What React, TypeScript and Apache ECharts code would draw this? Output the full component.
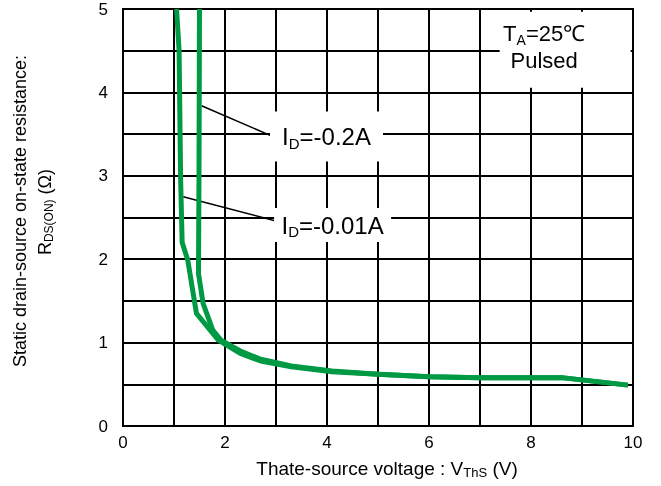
import React, { useEffect, useRef } from 'react';
import * as echarts from 'echarts';

// ID = -0.01A curve (left one)
const curveId001: number[][] = [
  [1.05, 5.0], [1.1, 4.5], [1.13, 2.95], [1.16, 2.2], [1.27, 1.99], [1.44, 1.35],
  [1.87, 1.03], [2.3, 0.87], [2.7, 0.78], [3.3, 0.71], [4.1, 0.65], [5.0, 0.62],
  [6.0, 0.59], [7.0, 0.58], [8.6, 0.58], [9.9, 0.49],
];
// ID = -0.2A curve (right one)
const curveId02: number[][] = [
  [1.5, 5.0], [1.49, 3.0], [1.48, 1.83], [1.57, 1.47], [1.76, 1.15], [1.92, 1.03],
  [2.3, 0.9], [2.7, 0.8], [3.3, 0.72], [4.1, 0.66], [5.0, 0.62], [6.0, 0.59],
  [7.0, 0.58], [8.6, 0.58], [9.9, 0.49],
];
// leader lines from curves to their labels
const leaderId02: number[][] = [[1.54, 3.84], [2.94, 3.47]];
const leaderId001: number[][] = [[1.18, 2.75], [2.98, 2.46]];

const xTickLabels = [0, 2, 4, 6, 8, 10];
const yTickLabels = [0, 1, 2, 3, 4, 5];

const labelId02 = '{n|I}{s|D}{n|=-0.2A}';
const labelId001 = '{n|I}{s|D}{n|=-0.01A}';
const labelCond = '{n|T}{s|A}{n|=25℃}\n{n|Pulsed}';

const GREEN = '#009944';
const FONT = '"Liberation Sans", Arial, sans-serif';

export default function App() {
  const ref = useRef<HTMLDivElement>(null);
  useEffect(() => {
    if (!ref.current) return;
    const chart = echarts.init(ref.current, undefined, { renderer: 'svg' });
    const richMain = (size: number, sub: number, lh: number) => ({
      n: { fontSize: size, color: '#000', fontFamily: FONT, lineHeight: lh },
      s: { fontSize: sub, color: '#000', fontFamily: FONT, lineHeight: sub + 3, verticalAlign: 'bottom' as const },
    });
    chart.setOption({
      animation: false,
      textStyle: { fontFamily: FONT },
      grid: { left: 123, right: 28, top: 9, bottom: 60, show: true, borderColor: '#000', borderWidth: 2, backgroundColor: 'transparent' },
      xAxis: {
        type: 'value', min: 0, max: 10, interval: 1,
        axisLine: { show: true, lineStyle: { color: '#000', width: 2 } },
        axisTick: { show: false },
        axisLabel: {
          color: '#000', fontSize: 17, margin: 8,
          formatter: (v: number) => (xTickLabels.includes(v) ? String(v) : ''),
        },
        splitLine: { show: true, lineStyle: { color: '#000', width: 2 } },
      },
      yAxis: {
        type: 'value', min: 0, max: 5, interval: 0.5,
        axisLine: { show: true, lineStyle: { color: '#000', width: 2 } },
        axisTick: { show: false },
        axisLabel: {
          color: '#000', fontSize: 17, margin: 15,
          formatter: (v: number) => (yTickLabels.includes(v) ? String(v) : ''),
        },
        splitLine: { show: true, lineStyle: { color: '#000', width: 2 } },
      },
      series: [
        {
          type: 'line', data: leaderId02, symbol: 'none', z: 2,
          lineStyle: { color: '#000', width: 1.5 }, silent: true,
        },
        {
          type: 'line', data: leaderId001, symbol: 'none', z: 2,
          lineStyle: { color: '#000', width: 1.5 }, silent: true,
        },
        {
          type: 'line', name: 'ID=-0.01A', data: curveId001, symbol: 'none', z: 3,
          lineStyle: { color: GREEN, width: 5, join: 'round' }, silent: true,
        },
        {
          type: 'line', name: 'ID=-0.2A', data: curveId02, symbol: 'none', z: 3,
          lineStyle: { color: GREEN, width: 5, join: 'round' }, silent: true,
        },
        {
          type: 'scatter', symbolSize: 0, z: 4, silent: true,
          itemStyle: { opacity: 1 },
          data: [
            {
              value: [3.99, 3.47],
              label: {
                show: true, position: 'inside', formatter: labelId02, opacity: 1,
                backgroundColor: '#ffffff', width: 113, padding: [11, 0, 11, 0],
                rich: richMain(24, 15, 28),
              },
            },
            {
              value: [4.11, 2.41],
              label: {
                show: true, position: 'inside', formatter: labelId001, opacity: 1,
                backgroundColor: '#ffffff', width: 117, padding: [3, 0, 3, 0],
                rich: richMain(24, 15, 28),
              },
            },
            {
              value: [8.67, 4.51],
              label: {
                show: true, position: 'inside', formatter: labelCond, opacity: 1,
                backgroundColor: '#ffffff', width: 89, padding: [8, 42, 14, 0],
                rich: richMain(22, 14, 27),
              },
            },
          ],
        },
      ],
      graphic: [
        {
          type: 'text', x: 20, y: 211, rotation: Math.PI / 2, silent: true,
          style: {
            text: 'Static drain-source on-state resistance:',
            fontSize: 18, fontFamily: FONT, fill: '#000', align: 'center', verticalAlign: 'middle',
          },
        },
        {
          type: 'text', x: 45, y: 212, rotation: Math.PI / 2, silent: true,
          style: {
            text: '{n|R}{s|DS(ON)}{n| (Ω)}',
            align: 'center', verticalAlign: 'middle', fill: '#000',
            rich: {
              n: { fontSize: 18, fontFamily: FONT, fill: '#000', lineHeight: 20 },
              s: { fontSize: 12, fontFamily: FONT, fill: '#000', lineHeight: 15, verticalAlign: 'bottom' },
            },
          },
        },
        {
          type: 'text', x: 387, y: 468, silent: true,
          style: {
            text: '{n|Thate-source voltage : V}{s|ThS}{n| (V)}',
            align: 'center', verticalAlign: 'middle', fill: '#000',
            rich: {
              n: { fontSize: 19, fontFamily: FONT, fill: '#000', lineHeight: 22 },
              s: { fontSize: 13, fontFamily: FONT, fill: '#000', lineHeight: 16, verticalAlign: 'bottom' },
            },
          },
        },
      ],
    });
    return () => chart.dispose();
  }, []);
  return <div ref={ref} style={{ position: 'fixed', left: 0, top: 0, width: 661, height: 486 }} />;
}
